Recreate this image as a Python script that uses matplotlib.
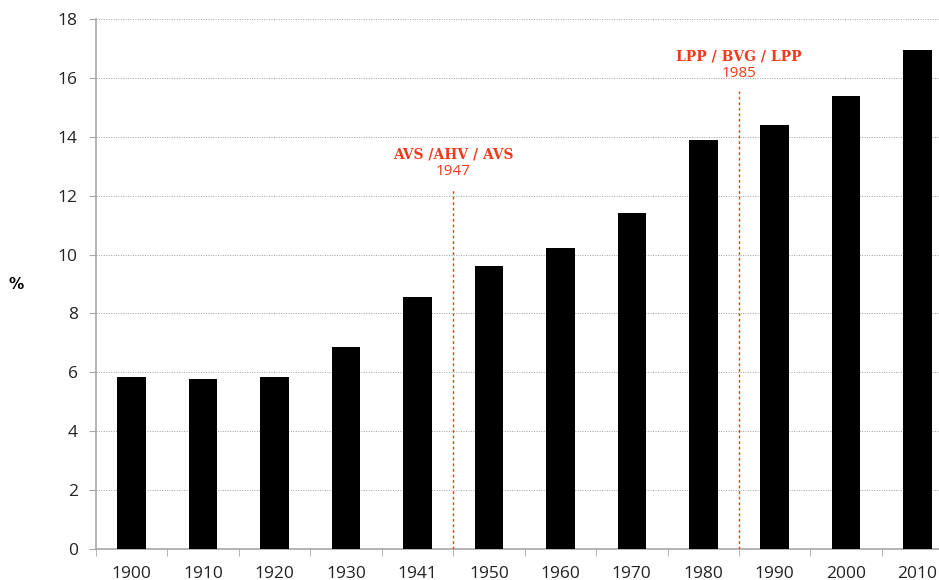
import numpy as np
import matplotlib.pyplot as plt

# share values
years = ['1900', '1910', '1920', '1930', '1941', '1950', '1960',
         '1970', '1980', '1990', '2000', '2010']
share = [5.84, 5.78, 5.84, 6.86, 8.56, 9.61, 10.22, 11.41, 13.89, 14.40, 15.39, 16.95]

# reform markers: position between categories, label, year, line top
reforms = [(4.5, 'AVS /AHV / AVS', '1947', 12.2),
           (8.5, 'LPP / BVG / LPP', '1985', 15.55)]

red = '#f03a1c'
grey = '#a8a8a8'

fig = plt.figure(figsize=(9.39, 5.80), dpi=100)
ax = fig.add_axes([0.1022, 0.0534, 0.8978, 0.9138])

x = np.arange(len(years))
ax.bar(x, share, width=0.4, color='black', zorder=3)

ax.set_ylim(0, 18)
ax.set_yticks(np.arange(0, 19, 2))
ax.set_xlim(-0.5, 11.3)
ax.set_xticks(x)
ax.set_xticklabels(years)
ax.set_xticks(np.arange(-0.5, 11.5, 1), minor=True)
ax.tick_params(axis='x', which='major', length=0, pad=12)
ax.tick_params(axis='x', which='minor', length=5, color=grey, direction='out')
ax.tick_params(axis='y', length=5, color=grey, direction='out', pad=8)
for lab in ax.get_xticklabels() + ax.get_yticklabels():
    lab.set_fontfamily('Open Sans')
    lab.set_fontsize(12.5)
    lab.set_color('#222222')

ax.yaxis.grid(True, linestyle=(0, (1, 1.5)), color='#a0a0a0', linewidth=0.7, zorder=0)
for s in ['top', 'right']:
    ax.spines[s].set_visible(False)
for s in ['left', 'bottom']:
    ax.spines[s].set_color(grey)
    ax.spines[s].set_linewidth(1.2)

ax.set_ylabel('%', rotation=0, fontsize=11, fontweight='bold', labelpad=30, va='center')

for pos, name, yr, top in reforms:
    ax.plot([pos, pos], [0, top], linestyle=(0, (2, 2)), color=red, linewidth=1, zorder=4)
    ax.text(pos, top + 0.95, name, ha='center', va='bottom', color=red,
            fontsize=10, fontweight='bold', family='DejaVu Serif')
    ax.text(pos, top + 0.35, yr, ha='center', va='bottom', color=red,
            fontsize=11, family='Open Sans')

fig.savefig('out.png', dpi=100)
